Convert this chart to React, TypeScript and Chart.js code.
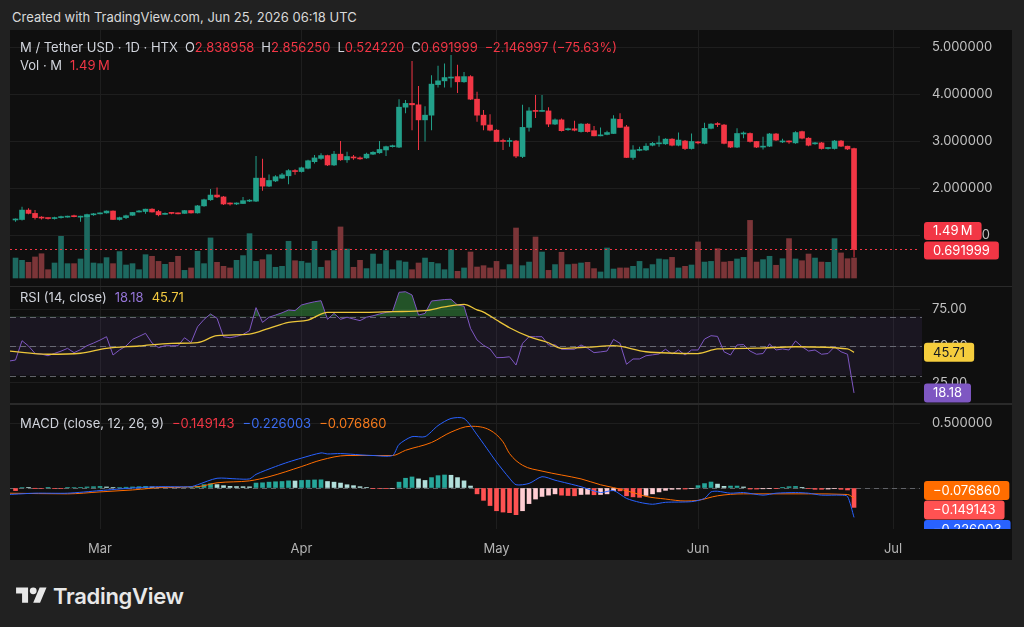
import React, { useEffect, useRef } from 'react';
import { Chart, registerables } from 'chart.js';

Chart.register(...registerables);

// ---------------- data ----------------
// day index 0 = Feb 16, 2026 ; last index 129 = Jun 25, 2026
const monthLabels = ['Mar', 'Apr', 'May', 'Jun', 'Jul'];
const monthDays = [13, 44, 74, 105, 135];
const priceTicks = [1, 2, 3, 4, 5];
const rsiTicks = [25, 50, 75];
const rsiLevels = [70, 50, 30];
const macdTicks = [0, 0.5];

const opens = [1.32,1.33,1.53,1.46,1.37,1.36,1.35,1.37,1.38,1.41, 1.38,1.39,1.43,1.45,1.47,1.51,1.33,1.37,1.42,1.49, 1.50,1.55,1.50,1.44,1.47,1.46,1.46,1.52,1.47,1.62, 1.75,1.85,1.81,1.67,1.66,1.67,1.72,1.72,2.21,2.04, 2.15,2.21,2.26,2.36,2.35,2.42,2.56,2.63,2.69,2.49, 2.72,2.60,2.66,2.64,2.64,2.72,2.75,2.81,2.88,2.87, 3.72,3.80,3.77,3.45,3.55,4.20,4.28,4.34,4.37,4.26, 4.37,3.89,3.55,3.34,3.23,3.01,2.99,3.00,2.67,3.29, 3.65,3.63,3.64,3.36,3.45,3.24,3.26,3.20,3.36,3.22, 3.11,3.14,3.16,3.46,3.30,2.65,2.80,2.81,2.91,2.94, 2.94,3.04,2.91,3.00,2.84,2.98,2.95,3.27,3.37,3.34, 2.99,2.87,3.15,3.16,2.99,2.87,2.89,3.15,2.98,3.00, 2.96,3.20,3.06,2.94,2.96,2.84,2.84,3.00,2.89,2.838958];
const highs = [1.35,1.60,1.57,1.53,1.40,1.37,1.39,1.41,1.41,1.43, 1.41,1.45,1.47,1.48,1.52,1.52,1.39,1.43,1.49,1.53, 1.56,1.57,1.53,1.48,1.48,1.48,1.53,1.53,1.64,1.77, 1.98,2.01,1.83,1.69,1.69,1.81,1.76,2.68,2.62,2.29, 2.27,2.32,2.40,2.40,2.45,2.60,2.70,2.74,2.71,2.79, 3.00,2.77,2.70,2.67,2.75,2.78,3.00,2.90,2.92,3.89, 3.87,4.70,4.17,3.74,4.40,4.60,4.65,4.83,4.62,4.47, 4.40,4.05,3.66,3.57,3.25,3.05,3.07,3.02,3.77,3.72, 3.98,3.98,3.72,3.48,3.48,3.28,3.43,3.38,3.38,3.32, 3.29,3.22,3.55,3.59,3.34,2.91,2.88,2.95,2.98,3.11, 3.06,3.06,3.18,3.02,3.16,3.00,3.39,3.38,3.40,3.36, 3.00,3.27,3.20,3.18,3.00,3.09,3.17,3.17,3.05,3.01, 3.21,3.22,3.08,2.98,2.98,2.87,3.02,3.02,2.90,2.856250];
const lows = [1.28,1.31,1.44,1.33,1.33,1.33,1.33,1.35,1.37,1.38, 1.28,1.37,1.41,1.44,1.46,1.32,1.31,1.34,1.41,1.48, 1.45,1.48,1.40,1.43,1.44,1.44,1.45,1.46,1.46,1.60, 1.73,1.79,1.64,1.63,1.64,1.66,1.70,1.70,1.94,2.02, 2.13,2.19,2.08,2.28,2.33,2.40,2.52,2.60,2.47,2.47, 2.58,2.54,2.60,2.60,2.62,2.70,2.73,2.68,2.86,2.85, 3.59,3.23,2.81,2.99,3.23,4.14,4.14,4.14,4.02,4.24, 3.87,3.41,3.23,3.21,2.98,2.81,2.88,2.64,2.64,3.20, 3.49,3.62,3.30,3.34,3.20,3.22,3.21,3.18,3.18,3.10, 3.10,3.12,3.15,3.28,2.64,2.60,2.78,2.79,2.89,2.88, 2.92,2.89,2.89,2.81,2.82,2.93,2.93,3.25,3.30,2.93, 2.85,2.85,3.06,2.97,2.85,2.82,2.87,3.00,2.96,2.94, 2.94,3.04,2.89,2.92,2.82,2.82,2.82,2.87,2.81,0.524220];
const closes = [1.34,1.53,1.46,1.37,1.36,1.35,1.37,1.38,1.40,1.39, 1.39,1.43,1.45,1.47,1.51,1.33,1.37,1.41,1.48,1.51, 1.55,1.49,1.43,1.46,1.46,1.45,1.52,1.47,1.62,1.75, 1.85,1.81,1.66,1.66,1.67,1.73,1.74,2.21,2.04,2.16, 2.24,2.28,2.37,2.35,2.43,2.58,2.64,2.69,2.49,2.72, 2.60,2.67,2.64,2.62,2.72,2.76,2.82,2.88,2.89,3.72, 3.80,3.77,3.45,3.55,4.21,4.28,4.35,4.36,4.26,4.37, 3.89,3.55,3.34,3.23,2.99,2.99,3.01,2.68,3.29,3.64, 3.63,3.65,3.36,3.45,3.22,3.26,3.23,3.36,3.20,3.11, 3.13,3.18,3.47,3.29,2.65,2.81,2.82,2.89,2.95,2.96, 3.04,2.91,3.02,2.84,2.99,2.96,3.27,3.36,3.35,2.95, 2.87,3.16,3.17,2.99,2.87,2.89,3.15,3.02,3.00,2.98, 3.18,3.06,2.91,2.96,2.84,2.85,3.00,2.89,2.83,0.691999];
// volume in millions
const volumes = [1.49,1.32,1.17,1.57,1.81,0.62,1.12,3.11,1.07,1.07, 1.42,4.73,1.12,1.07,1.52,1.07,1.97,0.97,1.07,0.62, 1.74,1.62,1.24,1.02,1.17,1.62,0.57,0.75,1.99,1.07, 2.99,1.17,0.87,0.75,1.32,1.67,3.31,1.24,1.37,1.74, 0.80,0.87,2.74,1.29,1.24,1.12,2.74,0.80,1.29,2.04, 3.81,2.16,0.80,1.32,0.70,1.79,1.04,2.04,0.62,1.29, 1.19,0.62,1.12,1.49,1.17,1.07,0.62,2.11,0.50,0.75, 1.94,0.82,0.92,0.75,1.24,0.62,1.00,3.73,0.92,1.19, 3.06,1.94,0.57,1.00,1.92,1.00,1.04,1.12,1.17,0.70, 0.45,2.24,0.67,0.75,0.75,0.87,1.24,0.70,1.00,1.42, 1.37,1.54,0.75,0.87,0.97,2.69,1.19,1.24,2.19,1.19, 1.24,1.42,1.54,4.30,1.19,1.37,1.62,0.95,1.44,2.94, 1.42,1.29,1.79,1.49,1.19,1.17,2.94,1.87,1.44,1.49];

// RSI (14) per day, starting at day -1
const rsiStartDay = -1;
const rsiVals = [39.8,40.5,53.6,50,45,44.5,43.4,45,46.5,48.4, 45.5,47.5,50.2,52,54,56.3,43.9,47.3,50,54.5, 56.5,58.6,52,48.9,50.2,50.2,50.2,55.6,52.3,63, 68,71.7,68.8,56.3,55.6,56.5,57.9,60.4,76.0,66.0, 69.5,71.0,72.5,74.4,74.0,77.8,79.0,80.0,80.7,68.1, 72.1,68.1,69.5,68.3,67.2,69.5,70.5,71.7,72.8,73.3, 86.4,86.8,84.6,71.0,72.1,80.5,81.0,81.5,81.7,77.8, 77.0,62.0,54.1,50.5,48.0,42.1,42.2,42.7,37.1,51.8, 56.3,56.3,56.3,50.7,50.8,47.8,47.8,47.8,50.7,48.5, 45.5,46.0,46.6,54.5,51.8,37.6,41.2,41.2,43.4,44.0, 44.6,47.8,44.6,47.3,43.9,47.3,47.3,54.7,57.0,56.5, 46.1,43.9,50.7,51.0,46.6,44.4,44.9,51.4,47.3,48.0, 47.3,53.4,49.5,46.6,47.3,44.4,44.9,49.5,46.1,44.4, 18.18];
// RSI-based moving average, read at its turning points
const rsiMaDays = [-1,5,10,14,19,24,28,31,36,39,42,45,48,54,58,63,66,69,71,72,74,76,79,82,84,88,92,97,105,108,114,120,128,129];
const rsiMaVals = [46.6,44.4,45.1,48.4,50,51.8,52.3,57,58.1,62,66,67.6,72.8,72.8,73.3,74,76.5,78.2,74.5,73,67.6,62.4,56.3,52.2,48.4,49.2,50.2,46.1,44.9,48,48.5,49.5,48,45.71];

// MACD (12, 26, 9)
const macdDays = [-1,3,8,13,18,22,27,28,31,34,36,37,40,42,44,47,48,50,53,55,58,59,61,63,65,67,69,71,74,76,77,79,81,83,87,90,92,94,96,98,100,104,106,107,108,110,112,115,117,120,122,124,127,128,129];
const macdVals = [-0.05,-0.04,-0.04,-0.02,0.0,0.01,0.01,0.025,0.075,0.07,0.07,0.105,0.165,0.2,0.23,0.27,0.262,0.265,0.255,0.25,0.25,0.335,0.395,0.395,0.48,0.535,0.535,0.41,0.20,0.075,0.025,0.035,0.087,0.06,0.01,-0.035,-0.02,-0.08,-0.11,-0.125,-0.11,-0.105,-0.08,-0.03,-0.025,-0.04,-0.035,-0.055,-0.04,-0.035,-0.04,-0.055,-0.055,-0.065,-0.226003];
const signalDays = [-1,8,13,18,23,28,31,36,39,44,47,51,58,60,64,67,70,73,75,76,78,81,84,87,90,92,95,97,100,103,105,108,112,122,128,129];
const signalVals = [-0.04,-0.045,-0.03,-0.015,0.005,0.01,0.04,0.055,0.087,0.165,0.215,0.25,0.25,0.29,0.35,0.43,0.475,0.445,0.355,0.265,0.175,0.13,0.10,0.07,0.025,0.003,-0.035,-0.065,-0.085,-0.10,-0.095,-0.06,-0.045,-0.045,-0.05,-0.07686];
const macdHist = [-0.02,0.004,0.003,-0.002,-0.004,0.002,-0.003,-0.003,0.003,0.004, 0.005,0.008,0.01,0.012,0.008,0.003,0.004,0.006,0.008,0.01, 0.012,0.008,0.005,0.004,0.003,0.002,0.004,0.006,0.013,0.026, 0.033,0.026,0.018,0.013,0.011,0.01,0.009,0.038,0.04,0.045, 0.048,0.05,0.055,0.054,0.058,0.06,0.062,0.063,0.05,0.045, 0.038,0.025,0.018,0.01,0.003,-0.003,-0.004,-0.005,-0.004,0.045, 0.075,0.085,0.07,0.058,0.08,0.095,0.1,0.098,0.08,0.055, 0.015,-0.045,-0.095,-0.135,-0.175,-0.185,-0.19,-0.205,-0.175,-0.12, -0.085,-0.065,-0.055,-0.045,-0.055,-0.058,-0.06,-0.05,-0.048,-0.052, -0.05,-0.045,-0.02,-0.022,-0.06,-0.068,-0.072,-0.057,-0.045,-0.03, -0.018,-0.01,-0.008,-0.008,-0.005,0.018,0.034,0.046,0.03,0.013, 0.015,0.015,0.008,-0.008,-0.008,-0.006,-0.005,-0.005,0.002,0.01, 0.012,0.002,-0.005,-0.01,-0.01,-0.008,-0.005,-0.01,-0.015,-0.149143];

const createdText = 'Created with TradingView.com, Jun 25, 2026 06:18 UTC';
const symbolTitle = 'M / Tether USD · 1D · HTX';
const changeText = '−2.146997 (−75.63%)';
const volTitle = 'Vol · M';
const volText = '1.49\u202FM';
const rsiTitle = 'RSI (14, close)';
const macdTitle = 'MACD (close, 12, 26, 9)';

// ---------------- styles ----------------
const FONT = "Inter, 'Noto Sans', 'DejaVu Sans', sans-serif";
const BG_OUT = '#212121';
const BG_PANEL = '#0f0f0f';
const GRID = '#1e1e1e';
const SEP = '#2a2a2a';
const YTICK = '#c2c2c2';
const XTICK = '#b4b4b4';
const UP = '#22a08a';
const DOWN = '#f23645';
const VOL_UP = '#1d6960';
const VOL_DOWN = '#7b3538';
const RSI_COLOR = '#7e57c2';
const MA_COLOR = '#ecc63a';
const BLUE = '#2962ff';
const ORANGE = '#ff6d00';
const HIST_RED = '#ff5252';
const LABEL = '#d1d4dc';

const X_MIN = -0.85;
const X_MAX = 139.15;
const AXIS_W = 92;
const LAST = closes.length - 1;

const candleColors = closes.map((c, i) => (c >= opens[i] ? UP : DOWN));
const volColors = closes.map((c, i) => (c >= opens[i] ? VOL_UP : VOL_DOWN));
const histColors = macdHist.map((v, i) => {
  const p = i > 0 ? macdHist[i - 1] : v;
  if (v >= 0) return v >= p ? '#26a69a' : '#b2dfdb';
  return v > p ? '#ffcdd2' : HIST_RED;
});

function xAxis(showLabels: boolean): any {
  return {
    type: 'linear',
    min: X_MIN,
    max: X_MAX,
    offset: false,
    afterBuildTicks: (s: any) => { s.ticks = monthDays.map((v) => ({ value: v })); },
    afterFit: (s: any) => { s.height = showLabels ? 31 : 0; s.paddingLeft = 0; s.paddingRight = 0; },
    grid: { color: GRID, drawTicks: false, offset: false },
    border: { display: false },
    ticks: {
      display: showLabels, color: XTICK, font: { family: FONT, size: 13 }, padding: 12,
      maxRotation: 0, autoSkip: false,
      callback: (v: number) => { const k = monthDays.indexOf(v); return k >= 0 ? monthLabels[k] : ''; },
    },
  };
}

function yAxis(min: number, max: number, ticks: number[], digits: number): any {
  return {
    type: 'linear', position: 'right', min, max,
    afterBuildTicks: (s: any) => { s.ticks = ticks.map((v) => ({ value: v })); },
    afterFit: (s: any) => { s.width = AXIS_W; s.paddingTop = 0; s.paddingBottom = 0; },
    grid: { color: GRID, drawTicks: false },
    border: { display: false },
    ticks: { color: YTICK, font: { family: FONT, size: 13 }, padding: 12, callback: (v: any) => Number(v).toFixed(digits) },
  };
}

function drawTag(ctx: CanvasRenderingContext2D, x: number, cy: number, text: string, bg: string, fg: string, h = 18) {
  ctx.save();
  ctx.font = `13px ${FONT}`;
  const w = ctx.measureText(text).width + 18;
  ctx.fillStyle = bg;
  ctx.beginPath();
  (ctx as any).roundRect(x, cy - h / 2, w, h, 3);
  ctx.fill();
  ctx.fillStyle = fg;
  ctx.textBaseline = 'middle';
  ctx.textAlign = 'left';
  ctx.fillText(text, x + 9, cy + 0.5);
  ctx.restore();
}

const baseOptions = {
  responsive: false,
  animation: false,
  events: [],
  layout: { padding: 0 },
  plugins: { legend: { display: false }, tooltip: { enabled: false } },
};

const pricePlugin = {
  id: 'priceExtras',
  afterDatasetsDraw(chart: any) {
    const { ctx, chartArea: a } = chart;
    const py = Math.round(chart.scales.y.getPixelForValue(closes[LAST])) + 0.5;
    ctx.save();
    ctx.strokeStyle = DOWN;
    ctx.lineWidth = 1;
    ctx.setLineDash([2, 3]);
    ctx.beginPath();
    ctx.moveTo(a.left, py);
    ctx.lineTo(a.right, py);
    ctx.stroke();
    ctx.restore();
  },
  afterDraw(chart: any) {
    const { ctx, chartArea: a } = chart;
    const py = chart.scales.y.getPixelForValue(closes[LAST]) + 1;
    const vy = Math.min(chart.scales.yVol.getPixelForValue(volumes[LAST]), py - 19.5);
    drawTag(ctx, a.right + 4, py, closes[LAST].toFixed(6), DOWN, '#ffffff');
    drawTag(ctx, a.right + 4, vy, volText, DOWN, '#ffffff');
  },
};

const rsiPlugin = {
  id: 'rsiExtras',
  beforeDatasetsDraw(chart: any) {
    const { ctx, chartArea: a } = chart;
    const y = chart.scales.y;
    const yTop = y.getPixelForValue(rsiLevels[0]);
    const yBot = y.getPixelForValue(rsiLevels[2]);
    ctx.save();
    ctx.fillStyle = 'rgba(126,87,194,0.10)';
    ctx.fillRect(a.left, yTop, a.right - a.left + 2, yBot - yTop);
    ctx.strokeStyle = 'rgba(140,143,152,0.65)';
    ctx.lineWidth = 1;
    ctx.setLineDash([6, 4]);
    rsiLevels.forEach((lv) => {
      const r = Math.round(y.getPixelForValue(lv)) + 0.5;
      ctx.beginPath();
      ctx.moveTo(a.left, r);
      ctx.lineTo(a.right + 2, r);
      ctx.stroke();
    });
    ctx.restore();
  },
  afterDraw(chart: any) {
    const { ctx, chartArea: a } = chart;
    const y = chart.scales.y;
    const ma = rsiMaVals[rsiMaVals.length - 1];
    const rsi = rsiVals[rsiVals.length - 1];
    drawTag(ctx, a.right + 4, y.getPixelForValue(ma), ma.toFixed(2), '#f5cd3d', '#131722', 19);
    drawTag(ctx, a.right + 4, y.getPixelForValue(rsi), rsi.toFixed(2), RSI_COLOR, '#ffffff', 19);
  },
};

const macdPlugin = {
  id: 'macdExtras',
  beforeDatasetsDraw(chart: any) {
    const { ctx, chartArea: a } = chart;
    const r = Math.round(chart.scales.y.getPixelForValue(0)) + 0.5;
    ctx.save();
    ctx.strokeStyle = 'rgba(140,143,152,0.6)';
    ctx.lineWidth = 1;
    ctx.setLineDash([5, 4]);
    ctx.beginPath();
    ctx.moveTo(a.left, r);
    ctx.lineTo(a.right, r);
    ctx.stroke();
    ctx.restore();
  },
  afterDraw(chart: any) {
    const { ctx, chartArea: a } = chart;
    const y = chart.scales.y;
    const h = macdHist[LAST];
    const m = macdVals[macdVals.length - 1];
    const s = signalVals[signalVals.length - 1];
    const fmt = (v: number) => (v < 0 ? '−' : '') + Math.abs(v).toFixed(6);
    const cy = y.getPixelForValue(h) + 2.5;
    ctx.save();
    ctx.beginPath();
    ctx.rect(a.right, 0, chart.width - a.right, a.bottom);
    ctx.clip();
    drawTag(ctx, a.right + 4, cy - 19.5, fmt(s), ORANGE, '#ffffff', 19);
    drawTag(ctx, a.right + 4, cy, fmt(h), HIST_RED, '#ffffff', 19);
    drawTag(ctx, a.right + 4, cy + 19.5, fmt(m), BLUE, '#ffffff', 19);
    ctx.restore();
  },
};

function priceConfig(): any {
  return {
    type: 'bar',
    data: {
      datasets: [
        { label: 'Volume', data: volumes.map((v, i) => ({ x: i, y: v })), yAxisID: 'yVol', backgroundColor: volColors, barThickness: 5, grouped: false, order: 3 },
        { label: 'Wick', data: highs.map((h, i) => ({ x: i, y: [lows[i], h] })), yAxisID: 'y', backgroundColor: candleColors, barThickness: 1, inflateAmount: 0, grouped: false, order: 2 },
        { label: 'Body', data: opens.map((o, i) => ({ x: i, y: [o, closes[i]] })), yAxisID: 'y', backgroundColor: candleColors, barThickness: 5, minBarLength: 1, grouped: false, order: 1 },
      ],
    },
    options: {
      ...baseOptions,
      scales: {
        x: xAxis(false),
        y: yAxis(-0.085, 5.362, priceTicks, 6),
        yVol: { type: 'linear', display: false, min: -0.597, max: 18.507 },
      },
    },
    plugins: [pricePlugin],
  };
}

function rsiConfig(): any {
  return {
    type: 'line',
    data: {
      datasets: [
        {
          label: 'RSI', data: rsiVals.map((v, k) => ({ x: rsiStartDay + k, y: v })),
          borderColor: RSI_COLOR, borderWidth: 1, pointRadius: 0, tension: 0,
          fill: { target: { value: 70 }, above: 'rgba(52,140,62,0.55)', below: 'rgba(0,0,0,0)' }, order: 2,
        },
        {
          label: 'RSI MA', data: rsiMaDays.map((d, k) => ({ x: d, y: rsiMaVals[k] })),
          borderColor: MA_COLOR, borderWidth: 1.3, pointRadius: 0, cubicInterpolationMode: 'monotone', fill: false, order: 1,
        },
      ],
    },
    options: {
      ...baseOptions,
      scales: { x: xAxis(false), y: yAxis(11.36, 90, rsiTicks, 2) },
    },
    plugins: [rsiPlugin],
  };
}

function macdConfig(): any {
  return {
    type: 'bar',
    data: {
      datasets: [
        { type: 'bar', label: 'Histogram', data: macdHist.map((v, i) => ({ x: i, y: v })), backgroundColor: histColors, barThickness: 4, grouped: false, order: 3 },
        { type: 'line', label: 'MACD', data: macdDays.map((d, k) => ({ x: d, y: macdVals[k] })), borderColor: BLUE, borderWidth: 1, pointRadius: 0, tension: 0.25, order: 1 },
        { type: 'line', label: 'Signal', data: signalDays.map((d, k) => ({ x: d, y: signalVals[k] })), borderColor: ORANGE, borderWidth: 1, pointRadius: 0, cubicInterpolationMode: 'monotone', order: 2 },
      ],
    },
    options: {
      ...baseOptions,
      scales: { x: xAxis(true), y: yAxis(-0.3154, 0.6385, macdTicks, 6) },
    },
    plugins: [macdPlugin],
  };
}

const gray = { color: LABEL };
const red = { color: DOWN };

export default function App() {
  const priceRef = useRef<HTMLCanvasElement>(null);
  const rsiRef = useRef<HTMLCanvasElement>(null);
  const macdRef = useRef<HTMLCanvasElement>(null);

  useEffect(() => {
    const charts = [
      new Chart(priceRef.current as HTMLCanvasElement, priceConfig()),
      new Chart(rsiRef.current as HTMLCanvasElement, rsiConfig()),
      new Chart(macdRef.current as HTMLCanvasElement, macdConfig()),
    ];
    return () => charts.forEach((c) => c.destroy());
  }, []);

  const legendStyle: React.CSSProperties = {
    position: 'absolute', left: 10, fontSize: 13, lineHeight: '18px', whiteSpace: 'nowrap',
  };
  const ohlc = [
    ['O', opens[LAST].toFixed(6)],
    ['H', highs[LAST].toFixed(6)],
    ['L', lows[LAST].toFixed(6)],
    ['C', closes[LAST].toFixed(6)],
  ];
  const fmt = (v: number) => (v < 0 ? '−' : '') + Math.abs(v).toFixed(6);

  return (
    <div style={{ position: 'fixed', left: 0, top: 0, width: 1024, height: 627, background: BG_OUT, fontFamily: FONT, overflow: 'hidden' }}>
      <div style={{ position: 'absolute', left: 12, top: 8, fontSize: 13, lineHeight: '18px', color: '#d9d9d9' }}>{createdText}</div>

      <div style={{ position: 'absolute', left: 10, top: 30, width: 1002, height: 530, background: BG_PANEL, overflow: 'hidden' }}>
        <canvas ref={priceRef} width={1002} height={256} style={{ position: 'absolute', left: 0, top: 0 }} />
        <div style={{ position: 'absolute', left: 0, top: 256, width: 1002, height: 1, background: SEP }} />
        <canvas ref={rsiRef} width={1002} height={116} style={{ position: 'absolute', left: 0, top: 257 }} />
        <div style={{ position: 'absolute', left: 0, top: 373, width: 1002, height: 2, background: SEP }} />
        <canvas ref={macdRef} width={1002} height={155} style={{ position: 'absolute', left: 0, top: 375 }} />

        <div style={{ ...legendStyle, top: 8 }}>
          <span style={gray}>{symbolTitle}</span>
          {ohlc.map(([k, v]) => (
            <span key={k} style={{ marginLeft: 7 }}>
              <span style={gray}>{k}</span><span style={red}>{v}</span>
            </span>
          ))}
          <span style={{ ...red, marginLeft: 7 }}>{changeText}</span>
        </div>
        <div style={{ ...legendStyle, top: 26 }}>
          <span style={gray}>{volTitle}</span>
          <span style={{ ...red, marginLeft: 8 }}>{volText}</span>
        </div>
        <div style={{ ...legendStyle, top: 258 }}>
          <span style={gray}>{rsiTitle}</span>
          <span style={{ color: '#9474d6', marginLeft: 8 }}>{rsiVals[rsiVals.length - 1].toFixed(2)}</span>
          <span style={{ color: '#f2c940', marginLeft: 8 }}>{rsiMaVals[rsiMaVals.length - 1].toFixed(2)}</span>
        </div>
        <div style={{ ...legendStyle, top: 384 }}>
          <span style={gray}>{macdTitle}</span>
          <span style={{ color: DOWN, marginLeft: 8 }}>{fmt(macdHist[LAST])}</span>
          <span style={{ color: '#3b6cf0', marginLeft: 8 }}>{fmt(macdVals[macdVals.length - 1])}</span>
          <span style={{ color: '#f57a1c', marginLeft: 8 }}>{fmt(signalVals[signalVals.length - 1])}</span>
        </div>
      </div>

      <div style={{ position: 'absolute', left: 16, top: 583, display: 'flex', alignItems: 'center' }}>
        <svg width="31" height="24" viewBox="0 0 36 28">
          <path d="M14 22H7V11H0V4h14v18zM28 22h-8l7.5-18h8L28 22z" fill="#e8e8e8" />
          <circle cx="20" cy="8" r="4" fill="#e8e8e8" />
        </svg>
        <span style={{ marginLeft: 6, fontSize: 22, fontWeight: 600, color: '#e8e8e8', letterSpacing: -0.3 }}>TradingView</span>
      </div>
    </div>
  );
}
